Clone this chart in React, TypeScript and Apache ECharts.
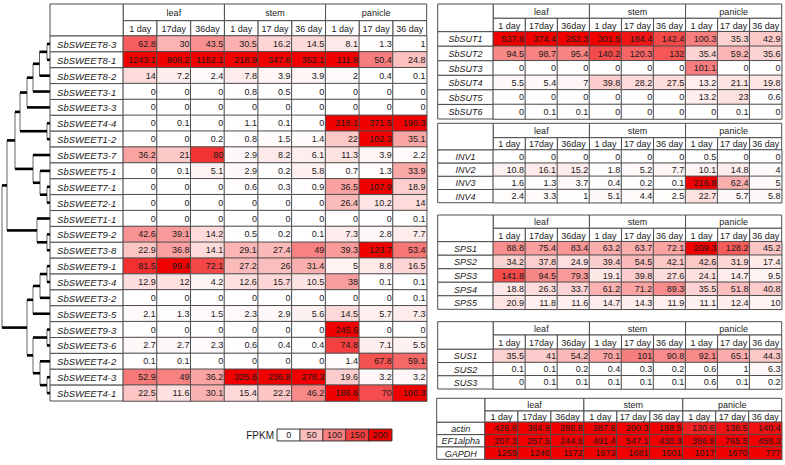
import React, { useEffect, useRef } from 'react';
import * as echarts from 'echarts';

// ---------- data ----------
const tissues = ['leaf', 'stem', 'panicle'];
const dayLabels = ['1 day', '17day', '36day', '1 day', '17 day', '36 day', '1 day', '17 day', '36 day'];

const sweetGenes = [
  'SbSWEET8-3', 'SbSWEET8-1', 'SbSWEET8-2', 'SbSWEET3-1', 'SbSWEET3-3', 'SbSWEET4-4',
  'SbSWEET1-2', 'SbSWEET3-7', 'SbSWEET5-1', 'SbSWEET7-1', 'SbSWEET2-1', 'SbSWEET1-1',
  'SbSWEET9-2', 'SbSWEET3-8', 'SbSWEET9-1', 'SbSWEET3-4', 'SbSWEET3-2', 'SbSWEET3-5',
  'SbSWEET9-3', 'SbSWEET3-6', 'SbSWEET4-2', 'SbSWEET4-3', 'SbSWEET4-1',
];
const sweetValues = [
  [62.8, 30, 43.5, 30.5, 16.2, 14.5, 8.1, 1.3, 1],
  [1243.1, 808.2, 1152.1, 218.9, 347.6, 352.1, 111.8, 50.4, 24.8],
  [14, 7.2, 2.4, 7.8, 3.9, 3.9, 2, 0.4, 0.1],
  [0, 0, 0, 0.8, 0.5, 0, 0, 0, 0],
  [0, 0, 0, 0, 0, 0, 0, 0, 0],
  [0, 0.1, 0, 1.1, 0.1, 0, 218.1, 371.5, 190.3],
  [0, 0, 0.2, 0.8, 1.5, 1.4, 22, 102.3, 35.1],
  [36.2, 21, 80, 2.9, 8.2, 6.1, 11.3, 3.9, 2.2],
  [0, 0.1, 5.1, 2.9, 0.2, 5.8, 0.7, 1.3, 33.9],
  [0, 0, 0, 0.6, 0.3, 0.9, 36.5, 107.9, 18.9],
  [0, 0, 0, 0, 0, 0, 26.4, 10.2, 14],
  [0, 0, 0, 0, 0, 0, 0, 0, 0.1],
  [42.6, 39.1, 14.2, 0.5, 0.2, 0.1, 7.3, 2.8, 7.7],
  [22.9, 36.8, 14.1, 29.1, 27.4, 49, 39.3, 123.7, 53.4],
  [81.5, 99.4, 72.1, 27.2, 26, 31.4, 5, 8.8, 16.5],
  [12.9, 12, 4.2, 12.6, 15.7, 10.5, 38, 0.1, 0.1],
  [0, 0, 0, 0, 0, 0, 0, 0, 0.1],
  [2.1, 1.3, 1.5, 2.3, 2.9, 5.6, 14.5, 5.7, 7.3],
  [0, 0, 0, 0, 0, 0, 245.6, 0, 0],
  [2.7, 2.7, 2.3, 0.6, 0.4, 0.4, 74.8, 7.1, 5.5],
  [0.1, 0.1, 0, 0, 0, 0, 1.4, 67.8, 59.1],
  [52.9, 49, 36.2, 325.6, 236.8, 278.3, 19.6, 3.2, 3.2],
  [22.5, 11.6, 30.1, 15.4, 22.2, 46.2, 186.6, 70, 100.3],
];

// dendrogram merges: [childA, childB, height]; leaves are 0..22, merge k gets id 23+k
const dendroMerges = [
  [0, 1, 3], [23, 2, 10.5], [24, 3, 17], [25, 4, 23], [5, 6, 3], [26, 27, 30],
  [9, 10, 3], [8, 29, 10], [7, 30, 17], [28, 31, 35], [12, 13, 3], [11, 33, 13],
  [32, 34, 43], [14, 15, 3], [36, 16, 10], [37, 17, 17], [18, 19, 3], [21, 22, 3],
  [20, 40, 10], [39, 41, 17], [38, 42, 23], [35, 43, 48],
];

const sutGenes = ['SbSUT1', 'SbSUT2', 'SbSUT3', 'SbSUT4', 'SbSUT5', 'SbSUT6'];
const sutValues = [
  [537.6, 374.4, 252.3, 301.5, 184.4, 142.4, 100.3, 35.3, 42.9],
  [94.5, 98.7, 95.4, 140.2, 120.3, 132, 35.4, 59.2, 35.6],
  [0, 0, 0, 0, 0, 0, 101.1, 0, 0],
  [5.5, 5.4, 7, 39.8, 28.2, 27.5, 13.2, 21.1, 19.8],
  [0, 0, 0, 0, 0, 0, 13.2, 23, 0.6],
  [0, 0.1, 0.1, 0, 0, 0, 0, 0.1, 0],
];

const invGenes = ['INV1', 'INV2', 'INV3', 'INV4'];
const invValues = [
  [0, 0, 0, 0, 0, 0, 0.5, 0, 0],
  [10.8, 16.1, 15.2, 1.8, 5.2, 7.7, 10.1, 14.8, 4],
  [1.6, 1.3, 3.7, 0.4, 0.2, 0.1, 216.8, 62.4, 5],
  [2.4, 3.3, 1, 5.1, 4.4, 2.5, 22.7, 5.7, 5.8],
];

const spsGenes = ['SPS1', 'SPS2', 'SPS3', 'SPS4', 'SPS5'];
const spsValues = [
  [88.8, 75.4, 83.4, 63.2, 63.7, 72.1, 209.3, 128.2, 45.2],
  [34.2, 37.8, 24.9, 39.4, 54.5, 42.1, 42.6, 31.9, 17.4],
  [141.8, 94.5, 79.3, 19.1, 39.8, 27.6, 24.1, 14.7, 9.5],
  [18.8, 26.3, 33.7, 61.2, 71.2, 89.3, 35.5, 51.8, 40.8],
  [20.9, 11.8, 11.6, 14.7, 14.3, 11.9, 11.1, 12.4, 10],
];

const susGenes = ['SUS1', 'SUS2', 'SUS3'];
const susValues = [
  [35.5, 41, 54.2, 70.1, 101, 90.8, 92.1, 65.1, 44.3],
  [0.1, 0.1, 0.2, 0.4, 0.3, 0.2, 0.6, 1, 6.3],
  [0, 0.1, 0.1, 0.1, 0.1, 0.1, 0.6, 0.1, 0.2],
];

const refGenes = ['actin', 'EF1alpha', 'GAPDH'];
const refValues = [
  [426.6, 384.9, 286.8, 287.6, 200.3, 168.5, 130.6, 138.5, 140.4],
  [207.3, 257.5, 244.6, 491.4, 547.1, 430.3, 356.6, 765.5, 458.3],
  [1259, 1246, 1172, 1673, 1681, 1501, 1017, 1670, 777],
];

const legendSteps = [0, 50, 100, 150, 200];

// ---------- layout ----------
const FONT = 'Liberation Sans, Arial, Helvetica, sans-serif';
const LINE = '#4d4d4d';

type Box = { x0: number; lr: number; dr: number; top: number; mid: number; hb: number; bottom: number; nameSize: number };

const LEFT_BOX: Box = { x0: 50, lr: 123.3, dr: 426.7, top: 4, mid: 20.7, hb: 36, bottom: 401, nameSize: 9.5 };
const SUT_BOX: Box = { x0: 437.7, lr: 493.3, dr: 781.7, top: 4, mid: 18.3, hb: 31.7, bottom: 119, nameSize: 9 };
const INV_BOX: Box = { x0: 437.7, lr: 493.3, dr: 781.7, top: 123.3, mid: 137.7, hb: 150, bottom: 202.7, nameSize: 9 };
const SPS_BOX: Box = { x0: 437.7, lr: 493.3, dr: 781.7, top: 215, mid: 228.3, hb: 241.7, bottom: 309.3, nameSize: 9 };
const SUS_BOX: Box = { x0: 437.7, lr: 493.3, dr: 781.7, top: 321.7, mid: 335, hb: 349.3, bottom: 389, nameSize: 9 };
const REF_BOX: Box = { x0: 436.7, lr: 485, dr: 781.7, top: 398.3, mid: 411, hb: 422.3, bottom: 459.3, nameSize: 9 };

const tables: { box: Box; genes: string[]; values: number[][] }[] = [
  { box: LEFT_BOX, genes: sweetGenes, values: sweetValues },
  { box: SUT_BOX, genes: sutGenes, values: sutValues },
  { box: INV_BOX, genes: invGenes, values: invValues },
  { box: SPS_BOX, genes: spsGenes, values: spsValues },
  { box: SUS_BOX, genes: susGenes, values: susValues },
  { box: REF_BOX, genes: refGenes, values: refValues },
];

function tableGraphics(box: Box, genes: string[]) {
  const els: any[] = [];
  const cw = (box.dr - box.lr) / 9;
  const rh = (box.bottom - box.hb) / genes.length;
  const rect = (x: number, y: number, w: number, h: number) => ({
    type: 'rect', shape: { x, y, width: w, height: h }, style: { fill: '#fff', stroke: LINE, lineWidth: 1 }, z: 1,
  });
  const text = (x: number, y: number, t: string, size: number, italic = false) => ({
    type: 'text', x, y, z: 2,
    style: { text: t, align: 'center', verticalAlign: 'middle', fill: '#1a1a1a', fontSize: size, fontFamily: FONT, fontStyle: italic ? 'italic' : 'normal' },
  });
  els.push(rect(box.x0, box.top, box.lr - box.x0, box.hb - box.top));
  tissues.forEach((t, k) => {
    els.push(rect(box.lr + 3 * k * cw, box.top, 3 * cw, box.mid - box.top));
    els.push(text(box.lr + (3 * k + 1.5) * cw, (box.top + box.mid) / 2 + 0.5, t, 9));
  });
  dayLabels.forEach((d, j) => {
    els.push(rect(box.lr + j * cw, box.mid, cw, box.hb - box.mid));
    els.push(text(box.lr + (j + 0.5) * cw, (box.mid + box.hb) / 2 + 0.5, d, 9));
  });
  genes.forEach((g, i) => {
    els.push(rect(box.x0, box.hb + i * rh, box.lr - box.x0, rh));
    els.push(text((box.x0 + box.lr) / 2, box.hb + (i + 0.5) * rh + 0.5, g, box.nameSize, true));
  });
  return els;
}

export default function App() {
  const ref = useRef<HTMLDivElement>(null);
  useEffect(() => {
    if (!ref.current) return;
    const chart = echarts.init(ref.current, undefined, { renderer: 'svg' });

    const grids: any[] = [];
    const xAxes: any[] = [];
    const yAxes: any[] = [];
    const series: any[] = [];

    tables.forEach((t, idx) => {
      const b = t.box;
      grids.push({ left: b.lr, top: b.hb, width: b.dr - b.lr, height: b.bottom - b.hb, outerBoundsMode: 'none', containLabel: false });
      xAxes.push({ type: 'category', gridIndex: idx, data: dayLabels.map((_, j) => String(j)), show: false });
      yAxes.push({ type: 'category', gridIndex: idx, data: t.genes, inverse: true, show: false });
      series.push({
        type: 'heatmap',
        xAxisIndex: idx,
        yAxisIndex: idx,
        data: t.values.flatMap((row, i) => row.map((v, j) => [j, i, v])),
        itemStyle: { borderColor: LINE, borderWidth: 1 },
        label: {
          show: true,
          position: 'insideRight',
          distance: 2,
          color: '#1a1a1a',
          fontSize: 9,
          fontFamily: FONT,
          formatter: (p: any) => String(p.value[2]),
        },
        emphasis: { disabled: true },
      });
    });

    // legend scale (index 6)
    grids.push({ left: 277.3, top: 429.3, width: 114.4, height: 11.4, outerBoundsMode: 'none' });
    xAxes.push({ type: 'category', gridIndex: 6, data: legendSteps.map(String), show: false });
    yAxes.push({ type: 'category', gridIndex: 6, data: ['FPKM'], show: false });
    series.push({
      type: 'heatmap',
      xAxisIndex: 6,
      yAxisIndex: 6,
      data: legendSteps.map((v, j) => [j, 0, v]),
      itemStyle: { borderColor: '#333', borderWidth: 1 },
      label: { show: true, color: '#1a1a1a', fontSize: 9, fontFamily: FONT, formatter: (p: any) => String(p.value[2]) },
      emphasis: { disabled: true },
    });

    // dendrogram (index 7)
    const nLeaves = sweetGenes.length;
    const pos: { h: number; y: number }[] = sweetGenes.map((_, i) => ({ h: 0, y: i + 0.5 }));
    dendroMerges.forEach(([a, b, h]) => {
      pos.push({ h, y: (pos[a].y + pos[b].y) / 2 });
    });
    grids.push({ left: 2, top: LEFT_BOX.hb, width: LEFT_BOX.x0 - 2, height: LEFT_BOX.bottom - LEFT_BOX.hb, outerBoundsMode: 'none' });
    xAxes.push({ type: 'value', gridIndex: 7, min: 0, max: 48, inverse: true, show: false });
    yAxes.push({ type: 'value', gridIndex: 7, min: 0, max: nLeaves, inverse: true, show: false });
    series.push({
      type: 'custom',
      xAxisIndex: 7,
      yAxisIndex: 7,
      clip: false,
      data: dendroMerges.map((m, k) => [pos[nLeaves + k].h, pos[nLeaves + k].y]),
      renderItem: (params: any, api: any) => {
        const [a, b, h] = dendroMerges[params.dataIndex];
        const pa = pos[a];
        const pb = pos[b];
        const nA = api.coord([h, pa.y]);
        const nB = api.coord([h, pb.y]);
        const cA = api.coord([pa.h, pa.y]);
        const cB = api.coord([pb.h, pb.y]);
        const hs = { stroke: '#000', lineWidth: 2.6 };
        const vs = { stroke: '#666', lineWidth: 1 };
        return {
          type: 'group',
          children: [
            { type: 'line', shape: { x1: nA[0], y1: nA[1], x2: nB[0], y2: nB[1] }, style: vs },
            { type: 'line', shape: { x1: nA[0], y1: nA[1], x2: cA[0], y2: cA[1] }, style: hs },
            { type: 'line', shape: { x1: nB[0], y1: nB[1], x2: cB[0], y2: cB[1] }, style: hs },
          ],
        };
      },
    });

    const graphics: any[] = [];
    tables.forEach((t) => graphics.push(...tableGraphics(t.box, t.genes)));
    graphics.push({
      type: 'text', x: 274, y: 435.5, z: 2,
      style: { text: 'FPKM', align: 'right', verticalAlign: 'middle', fill: '#1a1a1a', fontSize: 10, fontFamily: FONT },
    });

    const red = ['#ffffff', '#f00000'];
    chart.setOption({
      animation: false,
      backgroundColor: '#ffffff',
      grid: grids,
      xAxis: xAxes,
      yAxis: yAxes,
      visualMap: [
        { type: 'continuous', show: false, seriesIndex: 0, dimension: 2, min: 0, max: 100, inRange: { color: red } },
        { type: 'continuous', show: false, seriesIndex: [1, 2, 3, 4, 6], dimension: 2, min: 0, max: 200, inRange: { color: red } },
        { type: 'continuous', show: false, seriesIndex: 5, dimension: 2, min: 0, max: 150, inRange: { color: red } },
      ],
      graphic: graphics,
      series,
    });
    return () => chart.dispose();
  }, []);
  return <div ref={ref} style={{ position: 'fixed', left: 0, top: 0, width: 785, height: 465 }} />;
}
